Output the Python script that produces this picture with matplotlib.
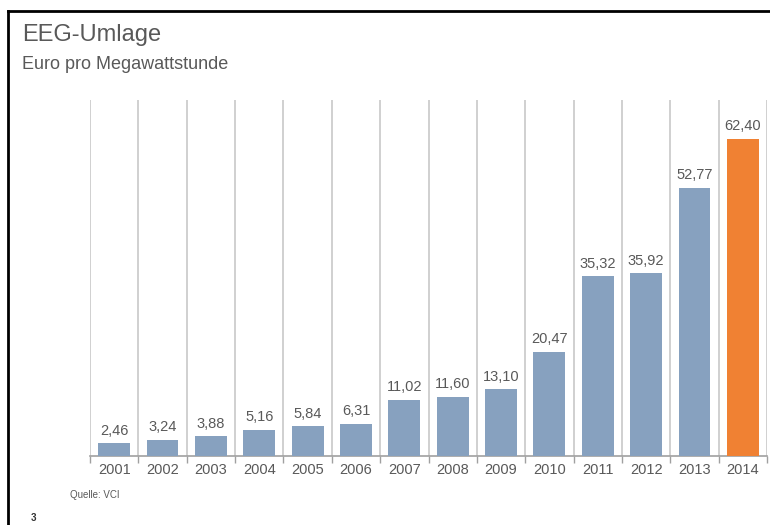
import matplotlib

matplotlib.use("Agg")
import matplotlib.pyplot as plt
from matplotlib.lines import Line2D

years = ["2001", "2002", "2003", "2004", "2005", "2006", "2007",
         "2008", "2009", "2010", "2011", "2012", "2013", "2014"]
values = [2.46, 3.24, 3.88, 5.16, 5.84, 6.31, 11.02,
          11.60, 13.10, 20.47, 35.32, 35.92, 52.77, 62.40]
highlight = "2014"

BLUE = "#87a1bf"
ORANGE = "#f08133"
TEXT = "#595959"
GRID = "#c8c8c8"

plt.rcParams["font.family"] = ["Liberation Sans", "DejaVu Sans"]

fig = plt.figure(figsize=(7.7, 5.25), dpi=100)
ax = fig.add_axes([90 / 770, 69 / 525, 677 / 770, 356 / 525])

n = len(years)
xs = list(range(n))
colors = [ORANGE if y == highlight else BLUE for y in years]
ax.bar(xs, values, width=0.66, color=colors, zorder=3)

# vertical separators between categories
ax.vlines([i - 0.5 for i in range(n + 1)], 0, 70, color=GRID, lw=1.2, zorder=1)

for x, v in zip(xs, values):
    ax.annotate(f"{v:.2f}".replace(".", ","), (x, v), textcoords="offset points",
                xytext=(0, 4), ha="center", va="bottom", fontsize=10.5, color=TEXT)

ax.set_xlim(-0.5, n - 0.5)
ax.set_ylim(0, 70)
ax.set_yticks([])
ax.set_xticks([i - 0.5 for i in range(n + 1)])
ax.set_xticklabels([])
ax.set_xticks(xs, minor=True)
ax.set_xticklabels(years, minor=True, fontsize=10.5, color=TEXT)
ax.tick_params(axis="x", which="major", length=5, color="#a0a0a0", width=1)
ax.tick_params(axis="x", which="minor", length=0, pad=5)
for side in ("top", "right", "left"):
    ax.spines[side].set_visible(False)
ax.spines["bottom"].set_color("#a0a0a0")
ax.spines["bottom"].set_linewidth(1.2)

fig.text(22 / 770, 1 - 35 / 525, "EEG-Umlage", fontsize=17, color=TEXT, va="center")
fig.text(22 / 770, 1 - 64 / 525, "Euro pro Megawattstunde", fontsize=13, color=TEXT, va="center")
fig.text(70 / 770, 1 - 495 / 525, "Quelle: VCI", fontsize=7, color=TEXT, va="center")
fig.text(31 / 770, 1 - 518 / 525, "3", fontsize=7, color="#333333", weight="bold", va="center")

# frame lines at top and left
fig.add_artist(Line2D([8 / 770, 1], [1 - 11 / 525, 1 - 11 / 525], color="black", lw=2,
                      transform=fig.transFigure))
fig.add_artist(Line2D([8 / 770, 8 / 770], [0, 1 - 11 / 525], color="black", lw=2,
                      transform=fig.transFigure))

fig.savefig("out.png", dpi=100)
